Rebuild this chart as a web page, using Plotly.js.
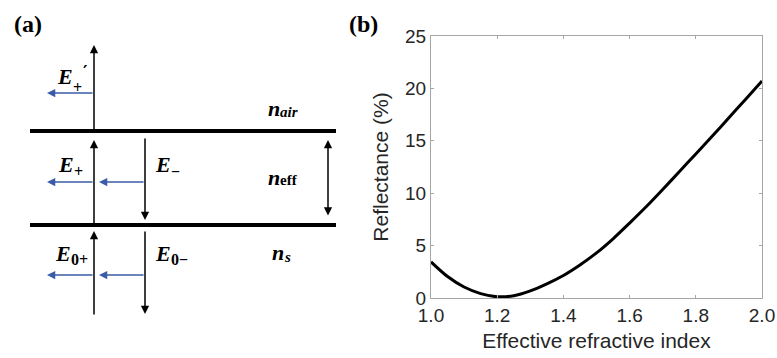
<!DOCTYPE html>
<html>
<head>
<meta charset="utf-8">
<script src="https://cdn.plot.ly/plotly-3.0.1.min.js"></script>
<style>html,body{margin:0;padding:0;background:#fff;}#chart{width:777px;height:358px;}</style>
</head>
<body>
<div id="chart"></div>
<script>
// Panel (b) data: reflectance vs effective refractive index
const nEff = [1.00,1.05,1.10,1.15,1.20,1.25,1.30,1.35,1.40,1.45,1.50,1.55,1.60,1.65,1.70,1.75,1.80,1.85,1.90,1.95,2.00];
const reflectance = [3.45,2.05,1.05,0.42,0.12,0.22,0.68,1.35,2.15,3.15,4.30,5.65,7.15,8.70,10.35,12.05,13.75,15.45,17.2,18.95,20.7];
const xTickVals = [1.0,1.2,1.4,1.6,1.8,2.0];
const xTickText = ['1.0','1.2','1.4','1.6','1.8','2.0'];
const yTickVals = [0,5,10,15,20,25];
const yTickText = ['0','5','10','15','20','25'];

const W = 777, H = 358;
const axisGrey = '#a6a6a6';
const textDark = '#262626';
const blue = '#3a5ca8';
const serif = 'Liberation Serif, Times New Roman, serif';
const sans = 'Liberation Sans, Arial, sans-serif';

const traces = [
  {x: nEff, y: reflectance, type: 'scatter', mode: 'lines', line: {color: '#000', width: 3, shape: 'spline', smoothing: 0.8}, xaxis: 'x', yaxis: 'y', hoverinfo: 'skip', showlegend: false},
  {x: [], y: [], type: 'scatter', mode: 'lines', xaxis: 'x2', yaxis: 'y2', hoverinfo: 'skip', showlegend: false}
];

function arrow(tx, ty, x, y, color, width, both) {
  const a = {x: x, y: y, ax: tx, ay: ty, xref: 'x2', yref: 'y2', axref: 'x2', ayref: 'y2',
    text: '', showarrow: true, arrowhead: 2, arrowsize: 1.1, arrowwidth: width, arrowcolor: color, standoff: 0, startstandoff: 0};
  if (both) { a.arrowside = 'end+start'; a.startarrowhead = 2; a.startarrowsize = 1.1; }
  return a;
}
function label(x, y, text, size, anchor, font) {
  return {x: x, y: y, xref: 'x2', yref: 'y2', text: text, showarrow: false, xanchor: anchor || 'center', yanchor: 'middle',
    borderpad: 0, font: {family: font || serif, size: size || 21, color: '#000'}};
}

const annotations = [
  label(28, 24, '<b>(a)</b>', 24),
  label(363, 24, '<b>(b)</b>', 24),
  // black field arrows
  arrow(94, 131, 94, 45, '#000', 1.5),
  arrow(94, 225, 94, 140, '#000', 1.5),
  arrow(145, 137, 145, 220, '#000', 1.5),
  arrow(94, 316, 94, 231, '#000', 1.5),
  arrow(145, 230, 145, 314, '#000', 1.5),
  arrow(328, 217, 328, 140, '#000', 1.5, true),
  // blue arrows
  arrow(94, 93, 47, 93, blue, 1.5),
  arrow(94, 182, 47, 182, blue, 1.5),
  arrow(145, 182, 99, 182, blue, 1.5),
  arrow(94, 275, 47, 275, blue, 1.5),
  arrow(145, 275, 99, 275, blue, 1.5),
  // E+'
  label(56, 76, '<b><i>E</i></b>', 22, 'left'),
  label(72, 87, '<b>+</b>', 16, 'left'),
  label(82, 71, '<b>\u2032</b>', 17, 'left', 'DejaVu Serif, serif'),
  // n_air
  label(267, 108, '<b><i>n</i></b>', 22, 'left'),
  label(279, 112, '<b><i>air</i></b>', 15, 'left'),
  // E+ and E-
  label(57, 164, '<b><i>E</i></b>', 22, 'left'),
  label(73, 171, '<b>+</b>', 16, 'left'),
  label(154, 164, '<b><i>E</i></b>', 22, 'left'),
  label(170, 171, '<b>\u2212</b>', 16, 'left'),
  // n_eff
  label(267, 177, '<b><i>n</i></b>', 22, 'left'),
  label(279, 180, '<b>eff</b>', 15, 'left'),
  // E0+ and E0-
  label(54, 253, '<b><i>E</i></b>', 22, 'left'),
  label(70, 259, '<b>0+</b>', 16, 'left'),
  label(154, 253, '<b><i>E</i></b>', 22, 'left'),
  label(170, 259, '<b>0\u2212</b>', 16, 'left'),
  // n_s
  label(271, 252, '<b><i>n</i></b>', 22, 'left'),
  label(283, 257, '<b><i>s</i></b>', 15, 'left')
];

const shapes = [
  {type: 'line', xref: 'x2', yref: 'y2', x0: 30, x1: 336, y0: 131, y1: 131, line: {color: '#000', width: 4}},
  {type: 'line', xref: 'x2', yref: 'y2', x0: 30, x1: 336, y0: 225, y1: 225, line: {color: '#000', width: 4}}
];

const layout = {
  width: W, height: H,
  margin: {l: 0, r: 0, t: 0, b: 0},
  paper_bgcolor: '#fff', plot_bgcolor: 'rgba(0,0,0,0)',
  showlegend: false,
  xaxis: {
    domain: [431 / W, 762 / W], range: [1, 2], anchor: 'y',
    showline: true, mirror: 'ticks', linecolor: axisGrey, linewidth: 1,
    ticks: 'inside', ticklen: 3, tickcolor: axisGrey, tickwidth: 1,
    tickvals: xTickVals, ticktext: xTickText, showgrid: false, zeroline: false,
    tickfont: {family: sans, size: 19, color: textDark},
    title: {text: 'Effective refractive index', font: {family: sans, size: 21, color: textDark}, standoff: 8}
  },
  yaxis: {
    domain: [(H - 298) / H, (H - 36) / H], range: [0, 25], anchor: 'x',
    showline: true, mirror: 'ticks', linecolor: axisGrey, linewidth: 1,
    ticks: 'inside', ticklen: 3, tickcolor: axisGrey, tickwidth: 1,
    tickvals: yTickVals, ticktext: yTickText, showgrid: false, zeroline: false,
    tickfont: {family: sans, size: 19, color: textDark},
    title: {text: 'Reflectance (%)', font: {family: sans, size: 21, color: textDark}, standoff: 10}
  },
  xaxis2: {domain: [0, 1], range: [0, W], visible: false, anchor: 'y2', fixedrange: true},
  yaxis2: {domain: [0, 1], range: [H, 0], visible: false, anchor: 'x2', fixedrange: true},
  shapes: shapes,
  annotations: annotations
};

Plotly.newPlot('chart', traces, layout, {displayModeBar: false, staticPlot: true});
</script>
</body>
</html>
